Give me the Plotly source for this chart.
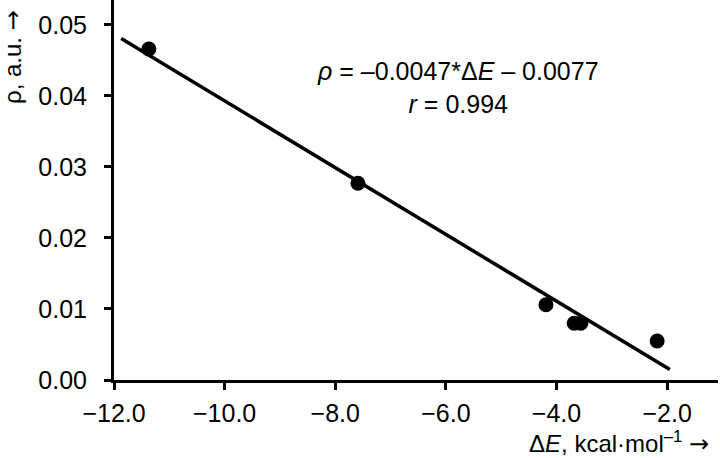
import plotly.graph_objects as go

# Data
delta_E = [-11.37, -7.59, -4.19, -3.68, -3.56, -2.18]
rho = [0.0466, 0.0277, 0.0106, 0.0080, 0.0080, 0.0055]

# Regression line as reported in the chart
slope = -0.0047
intercept = -0.0077
fit_x = [-11.87, -1.95]
fit_y = [slope * x + intercept for x in fit_x]

x_ticks = [-12.0, -10.0, -8.0, -6.0, -4.0, -2.0]
y_ticks = [0.00, 0.01, 0.02, 0.03, 0.04, 0.05]

FONT = "Liberation Sans, Arial, Helvetica, sans-serif"
ARROW = '<span style="font-family:DejaVu Sans">→</span>'

fig = go.Figure()
fig.add_trace(go.Scatter(x=fit_x, y=fit_y, mode="lines",
                         line=dict(color="black", width=3.5),
                         showlegend=False, hoverinfo="skip"))
fig.add_trace(go.Scatter(x=delta_E, y=rho, mode="markers",
                         marker=dict(color="black", size=15, line=dict(width=0)),
                         showlegend=False, cliponaxis=False))

W, H = 720, 458
L, R, T, B = 114, 2, 0, 78
pw, ph = W - L - R, H - T - B

fig.update_layout(
    width=W, height=H,
    margin=dict(l=L, r=R, t=T, b=B, pad=0, autoexpand=False),
    paper_bgcolor="white", plot_bgcolor="white",
    font=dict(family=FONT, size=25, color="black"),
    xaxis=dict(range=[-12, -1.08], tickvals=x_ticks, tickformat=".1f",
               showline=True, linecolor="black", linewidth=3,
               ticks="outside", ticklen=7, tickwidth=3, tickcolor="black",
               showgrid=False, zeroline=False, ticklabelstandoff=2,
               automargin=False,
               tickfont=dict(size=25, family=FONT)),
    yaxis=dict(range=[0, 0.0535], tickvals=y_ticks, tickformat=".2f",
               showline=True, linecolor="black", linewidth=3,
               ticks="outside", ticklen=7, tickwidth=3, tickcolor="black",
               showgrid=False, zeroline=False, ticklabelstandoff=12,
               automargin=False,
               tickfont=dict(size=25, family=FONT)),
)

def px_x(p):
    return (p - L) / pw

def px_y(p):
    return (H - B - p) / ph

fig.add_annotation(xref="paper", yref="paper", x=px_x(13), y=px_y(57),
                   text="ρ, a.u. " + ARROW, textangle=-90, showarrow=False,
                   xanchor="center", yanchor="middle",
                   font=dict(size=24, family=FONT))
fig.add_annotation(xref="paper", yref="paper", x=px_x(711), y=px_y(442),
                   text="Δ<i>E</i>, kcal·mol<sup>–1</sup> " + ARROW, showarrow=False,
                   xanchor="right", yanchor="middle",
                   font=dict(size=24, family=FONT))
fig.add_annotation(xref="paper", yref="paper", x=px_x(458), y=px_y(87),
                   text="<i>ρ</i> = –0.0047*Δ<i>E</i> – 0.0077<br><i>r</i> = 0.994",
                   showarrow=False, xanchor="center", yanchor="middle",
                   align="center", font=dict(size=25, family=FONT))

fig.write_html(
    "out.html",
    config={"displayModeBar": False},
    post_script="document.body.style.margin='0';document.body.style.overflow='hidden';",
)
